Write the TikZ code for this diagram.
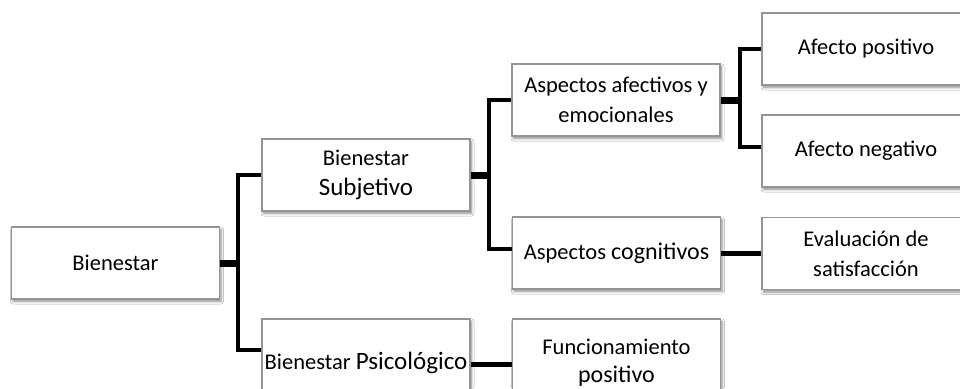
\documentclass[tikz,border=0pt]{standalone}
\usepackage{fontspec}
\setmainfont{Carlito}
\usetikzlibrary{shadows.blur}
\tikzset{
  box/.style={draw=black!42, line width=1.2pt, fill=white,
    minimum width=208pt, minimum height=72pt, inner sep=2pt, align=center,
    font=\fontsize{22.5}{30}\selectfont,
    blur shadow={shadow xshift=1.5pt, shadow yshift=-2.5pt, shadow blur steps=6, shadow blur radius=2.5pt, shadow opacity=45}},
  stub/.style={line width=7pt},
  vline/.style={line width=3.5pt},
  hline/.style={line width=5pt}
}
\newcommand{\bigw}[1]{{\fontsize{25}{30}\selectfont #1}}
\begin{document}
\begin{tikzpicture}[x=1pt,y=-1pt]
\clip (0,0) rectangle (960,388);
\fill[white] (0,0) rectangle (960,388);
% nodes
\node[box] (bien) at (115.5,263) {Bienestar};
\node[box] (subj) at (366,175) {Bienestar\\\bigw{Subjetivo}};
\node[box, minimum height=88pt] (psic) at (366,363) {Bienestar \bigw{Psicológico}};
\node[box, minimum height=88pt] (func) at (616.5,363) {Funcionamiento\\[-2pt]{\fontsize{24}{30}\selectfont positivo}};
\node[box] (asaf) at (616,100) {Aspectos afectivos y\\emocionales};
\node[box] (ascog) at (616.5,253) {Aspectos {\fontsize{24}{30}\selectfont cognitivos}};
\node[box] (afpos) at (866,49) {Afecto positivo};
\node[box] (afneg) at (866,151) {Afecto negativo};
\node[box] (eval) at (866,253.5) {Evaluación de\\satisfacción};
% junctions
\coordinate (j1) at (238,263);
\coordinate (j2) at (489,175);
\coordinate (j3) at (740,100);
% connectors
\draw[stub] (bien.east) -- (j1);
\draw[vline] (subj.west) -| (j1);
\draw[vline] ([yshift=13pt]psic.west) -| (j1);
\draw[stub] (subj.east) -- (j2);
\draw[vline] (asaf.west) -| (j2);
\draw[vline] ([yshift=4pt]ascog.west) -| (j2);
\draw[stub] (asaf.east) -- (j3);
\draw[vline] (afpos.west) -| (j3);
\draw[vline] ([yshift=4pt]afneg.west) -| (j3);
\draw[hline] (ascog.east) -- (eval.west |- ascog.east);
\draw[hline] ([yshift=-1pt]psic.east) -- ([yshift=-1pt]func.west);
\end{tikzpicture}
\end{document}
